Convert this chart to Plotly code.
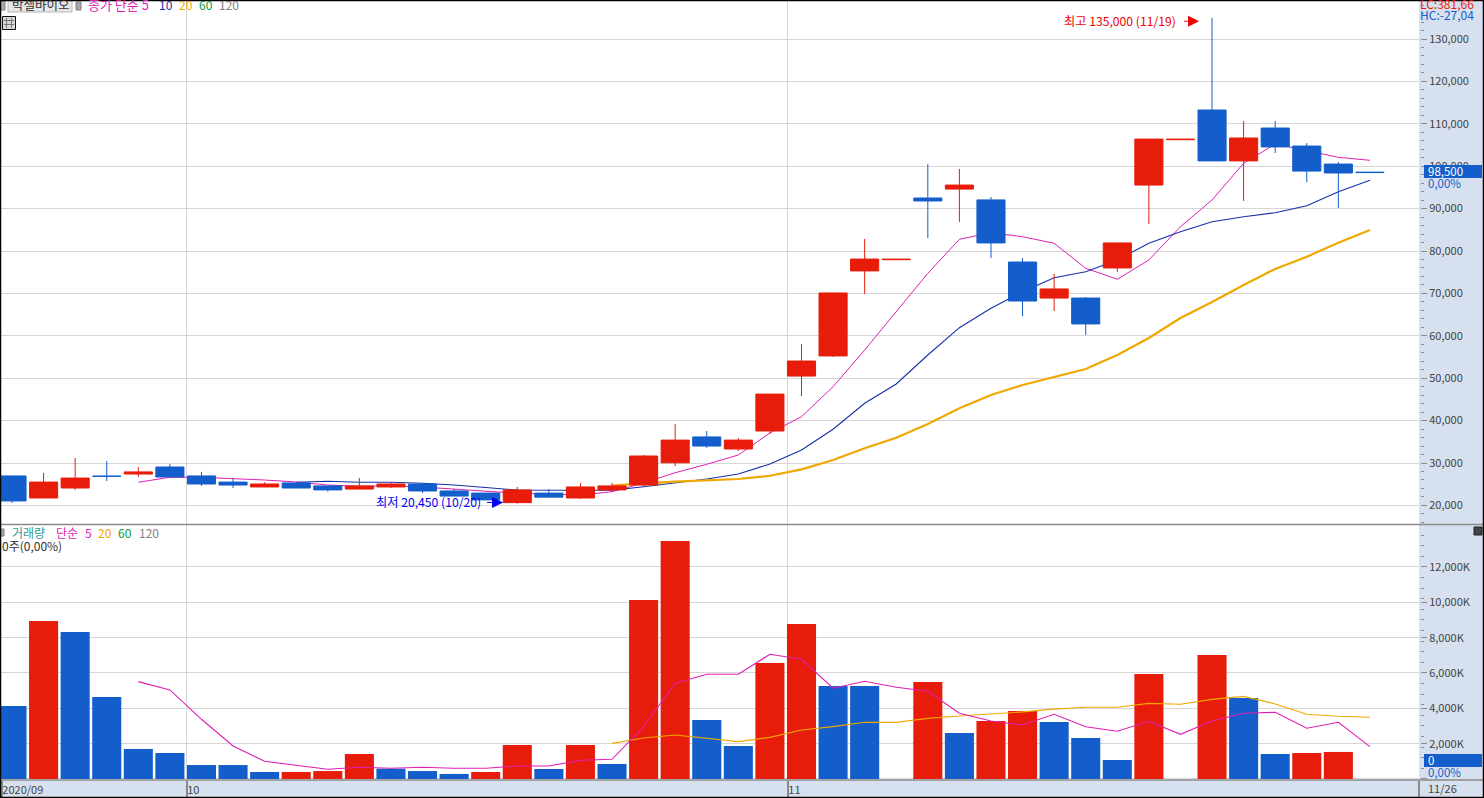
import plotly.graph_objects as go

# ---- data -------------------------------------------------------------
opens = [26950, 21750, 24100, 26900, 27400, 29050, 26950, 25500, 24350, 25300, 24600, 23850, 24350, 25050, 23400, 22900,
         20650, 22900, 21750, 23650, 24800, 30050, 36150, 33300, 37550, 50500, 55250, 75300, 77950, 92500, 94600, 92050,
         77400, 68900, 68900, 76000, 95550, 106250, 113250, 101250, 109000, 104750, 100500, 98600]
highs = [26950, 27650, 31200, 30450, 29050, 29750, 27900, 26450, 25500, 25300, 24600, 26450, 25500, 25300, 23850, 22900,
         24350, 23850, 25300, 25300, 31900, 39200, 37550, 35900, 46250, 58050, 70100, 82850, 78050, 100500, 99350, 92750,
         78350, 74600, 69150, 81900, 106400, 106350, 135000, 110650, 110650, 105450, 101000, 98600]
lows = [20550, 21750, 23650, 25750, 26700, 26700, 24600, 24100, 24350, 24100, 23250, 23850, 24100, 22900, 22200, 21300,
        20450, 21950, 21500, 23150, 24350, 29300, 33550, 32850, 36850, 45800, 55000, 69850, 77950, 83050, 86850, 78350,
        64650, 65850, 60200, 75050, 86350, 106250, 101250, 91800, 103100, 96250, 90150, 98500]
closes = [21050, 25500, 26450, 26850, 27900, 26700, 25050, 24800, 25050, 24100, 23650, 24600, 25050, 23400, 22200, 21300,
          23650, 21950, 24350, 24600, 31650, 35400, 34000, 35400, 46250, 54050, 70100, 78100, 78050, 91800, 95550, 81900,
          68200, 71050, 62800, 81900, 106400, 106350, 101250, 106650, 104550, 98850, 98400, 98500]

ma5 = [None, None, None, None, 25450, 26630, 26630, 26390, 25990, 25520, 24810, 24500, 24580, 24340, 23870, 23230,
       22850, 22690, 22450, 23230, 25280, 27710, 29690, 31890, 37080, 40920, 48000, 56650, 65680, 74740, 82760, 84320,
       83370, 81820, 75920, 73330, 77880, 85730, 92030, 100680, 105240, 103660, 102100, 101390]
ma10 = [None, None, None, None, None, None, None, None, None, 25450, 25680, 25450, 25450, 25210, 24810, 24220,
        23630, 23560, 23560, 23560, 24410, 25350, 26230, 27410, 29760, 33070, 37950, 44080, 48630, 55470, 61910, 66490,
        70400, 73700, 75120, 77880, 81820, 84550, 86910, 88090, 89030, 90680, 93990, 96680]
ma20 = [None] * 19 + [24650, 25210, 25590, 25990, 26230, 27000, 28510, 30710, 33470, 35970, 39200, 42900, 46040,
                      48400, 50280, 52170, 55470, 59480, 64200, 67970, 71980, 75760, 78660, 81960, 84950]

volumes = [4130, 8945, 8320, 4640, 1700, 1470, 790, 790, 395, 395, 450, 1415, 585, 450, 285, 395,
           1925, 565, 1925, 850, 10130, 13470, 3340, 1865, 6565, 8775, 5265, 5265, 0, 5490, 2605, 3280,
           3850, 3225, 2320, 1075, 5945, 0, 7020, 4585, 1415, 1470, 1530, 0]
volume_up = [0, 1, 0, 0, 0, 0, 0, 0, 0, 1, 1, 1, 0, 0, 0, 1,
             1, 0, 1, 0, 1, 1, 0, 0, 1, 1, 0, 0, 0, 1, 0, 1,
             1, 0, 0, 0, 1, 0, 1, 0, 0, 1, 1, 0]
vol_ma5 = [None, None, None, None, 5510, 5040, 3380, 1870, 1000, 790, 550, 665, 605, 665, 605, 605,
           735, 735, 1060, 1115, 2960, 5420, 5930, 5930, 7060, 6775, 5135, 5530, 5190, 4965, 3720, 3285,
           3055, 3665, 2960, 2700, 3265, 2530, 3285, 3720, 3775, 2870, 3210, 1830]
vol_ma20 = [None] * 19 + [2020, 2320, 2490, 2305, 2110, 2360, 2775, 2960, 3210, 3210, 3435, 3565, 3665,
                          3795, 3960, 4060, 4060, 4285, 4230, 4510, 4680, 4245, 3665, 3550, 3495]

days = list(range(len(closes)))
price_ticks = [20000 + 10000 * i for i in range(12)]
price_labels = [f"{v:,}" for v in price_ticks]
vol_ticks = [0, 2000, 4000, 6000, 8000, 10000, 12000]
vol_labels = ["", "2,000K", "4,000K", "6,000K", "8,000K", "10,000K", "12,000K"]
month_ticks = [-0.33, 5.526, 24.56, 44.54]
month_labels = ["2020/09", "10", "11", ""]

# ---- styling ----------------------------------------------------------
RED, BLUE = "#e81c0a", "#135ecb"
MAGENTA, NAVY, ORANGE, GREEN, GREY = "#df1fb4", "#1530a8", "#f0a800", "#0e9a3c", "#808080"
TEAL = "#2f9a9a"
STRIP, GRID, AXIS, TEXT = "#d6e0ee", "#d6d6d6", "#8a8a8a", "#444444"
FONT = "Noto Sans CJK KR"
W, H = 1484, 798
L, R, T, B = 1, 1419, 1, 780


def px(x):
    return (x - L) / (R - L)


def py(y):
    return (B - y) / (B - T)


fig = go.Figure()
for ys, col, wd in ((ma5, MAGENTA, 1), (ma10, NAVY, 1.1), (ma20, ORANGE, 2.2)):
    fig.add_trace(go.Scatter(x=days, y=ys, mode="lines", line=dict(color=col, width=wd),
                             xaxis="x", yaxis="y", zorder=0, showlegend=False, hoverinfo="skip"))
fig.add_trace(go.Candlestick(
    x=days, open=opens, high=highs, low=lows, close=closes, xaxis="x", yaxis="y", zorder=1,
    whiskerwidth=0, showlegend=False,
    increasing=dict(line=dict(color=RED, width=1), fillcolor=RED),
    decreasing=dict(line=dict(color=BLUE, width=1), fillcolor=BLUE)))
fig.add_trace(go.Bar(x=days, y=volumes, width=0.92, marker=dict(color=[RED if u else BLUE for u in volume_up], line=dict(width=0)),
                     xaxis="x2", yaxis="y2", showlegend=False))
for ys, col, wd in ((vol_ma20, ORANGE, 1.2), (vol_ma5, MAGENTA, 1.1)):
    fig.add_trace(go.Scatter(x=days, y=ys, mode="lines", line=dict(color=col, width=wd),
                             xaxis="x2", yaxis="y2", showlegend=False, hoverinfo="skip"))

shapes = []


def rect(x0, y0, x1, y1, fill=None, line=None, lw=1):
    shapes.append(dict(type="rect", xref="paper", yref="paper", x0=px(x0), x1=px(x1), y0=py(y0), y1=py(y1),
                       fillcolor=fill or "rgba(0,0,0,0)", line=dict(color=line or "rgba(0,0,0,0)", width=lw if line else 0)))


def hline(x0, x1, y, col, lw=1):
    shapes.append(dict(type="line", xref="paper", yref="paper", x0=px(x0), x1=px(x1), y0=py(y), y1=py(y), line=dict(color=col, width=lw)))


def vline(x, y0, y1, col, lw=1):
    shapes.append(dict(type="line", xref="paper", yref="paper", x0=px(x), x1=px(x), y0=py(y0), y1=py(y1), line=dict(color=col, width=lw)))


hline(0, W, 524.5, AXIS, 1.5)
hline(0, W, 780, AXIS, 1.5)
rect(8, -1, 72, 12, "#e6e6e6", "#b8b8b8")
rect(0, 1, 5, 10, "#a8a8a8", "#808080")
rect(76, 2, 81, 10, "#a8a8a8", "#808080")
rect(0, 529, 4, 536, "#a8a8a8", "#808080")
rect(2.5, 16.5, 15.5, 29.5, "#d8d8d8", "#111111")
for xx in (6.5, 11.5):
    vline(xx, 18, 28, "#777777")
for yy in (20.5, 24.5):
    hline(4, 14, yy, "#777777")
rect(1474, 527, 1482, 535, "#444444", "#222222")
rect(1424, 165, 1482, 178, BLUE)
rect(1424, 754, 1482, 767, BLUE)
rect(0.5, 0.5, W - 0.5, H - 0.5, None, "#000000", 1.5)

annotations = []


def text(x, y, s, col=TEXT, size=12, anchor="left"):
    annotations.append(dict(xref="paper", yref="paper", x=px(x), y=py(y), text=s, showarrow=False,
                            xanchor=anchor, yanchor="middle", font=dict(family=FONT, size=size, color=col)))


text(10, 5, "박셀바이오", "#333333", 12.5)
text(86, 5, "종가 단순 5", MAGENTA, 13)
text(157, 5, "10", NAVY, 12)
text(177, 5, "20", ORANGE, 12)
text(197, 5, "60", GREEN, 12)
text(217, 5, "120", GREY, 12)
text(1418, 3, "LC:381,66", RED, 12)
text(1418, 15, "HC:-27,04", BLUE, 12)
text(1426, 171, "98,500", "#ffffff", 11.5)
text(1426, 183, "0,00%", BLUE, 11.5)
text(1426, 760, "0", "#ffffff", 11.5)
text(1426, 772, "0,00%", BLUE, 11.5)
text(1426, 788, "11/26", TEXT, 11)
text(10, 532, "거래량", TEAL, 12)
text(54, 532, "단순", MAGENTA, 12)
text(83, 532, "5", MAGENTA, 12)
text(96, 532, "20", ORANGE, 12)
text(116, 532, "60", GREEN, 12)
text(137, 532, "120", GREY, 12)
text(0, 545, "0주(0,00%)", "#333333", 12)

annotations.append(dict(xref="x", yref="y", x=37.59, y=134200, text="최고 135,000 (11/19)", showarrow=True, ax=-21, ay=0,
                        xanchor="right", yanchor="middle", arrowhead=2, arrowsize=2.2, arrowwidth=1, startstandoff=6, arrowcolor="#f00000",
                        font=dict(family=FONT, size=12.2, color="#f00000")))
annotations.append(dict(xref="x", yref="y", x=15.55, y=20700, text="최저 20,450 (10/20)", showarrow=True, ax=-20, ay=0,
                        xanchor="right", yanchor="middle", arrowhead=2, arrowsize=2.2, arrowwidth=1, startstandoff=4, arrowcolor="#0000f0",
                        font=dict(family=FONT, size=12.2, color="#0000f0")))

xrange = [(L - 12) / 31.58, (R - 12) / 31.58]
yfont = dict(family=FONT, size=11, color=TEXT)
common_y = dict(side="right", ticks="outside", ticklen=6, tickcolor=AXIS, tickwidth=1, showline=True, linecolor=AXIS, linewidth=2,
                showgrid=True, gridcolor=GRID, gridwidth=1, zeroline=False, tickfont=yfont, fixedrange=True, tickmode="array")
fig.update_layout(
    width=W, height=H, autosize=False,
    margin=dict(l=L, r=W - R, t=T, b=H - B, pad=0),
    paper_bgcolor=STRIP, plot_bgcolor="#ffffff",
    boxgap=0.11, boxgroupgap=0, bargap=0.08, showlegend=False,
    xaxis=dict(domain=[0, 1], range=xrange, anchor="y", showticklabels=False, ticks="", rangeslider=dict(visible=False),
               tickmode="array", tickvals=month_ticks[:-1], showgrid=True, gridcolor=GRID, gridwidth=1, zeroline=False, fixedrange=True),
    xaxis2=dict(domain=[0, 1], range=xrange, anchor="y2", ticks="outside", ticklen=17, tickcolor=AXIS, tickwidth=1.5,
                tickmode="array", tickvals=month_ticks, ticktext=month_labels, ticklabelposition="outside right", tickangle=0,
                tickfont=dict(family=FONT, size=11, color=TEXT), showgrid=True, gridcolor=GRID, gridwidth=1, zeroline=False, fixedrange=True),
    yaxis=dict(domain=[py(524), 1], range=[20000 + (505.4 - 524) * 235.85, 20000 + (505.4 - 1) * 235.85], anchor="x",
               tickvals=price_ticks, ticktext=price_labels, minor=dict(dtick=2000, ticks="outside", ticklen=3, tickcolor=AXIS, showgrid=False),
               **common_y),
    yaxis2=dict(domain=[0, py(525)], range=[-57, (779 - 525) * 56.6], anchor="x2",
                tickvals=vol_ticks, ticktext=vol_labels, minor=dict(dtick=600, ticks="outside", ticklen=3, tickcolor=AXIS, showgrid=False),
                **common_y),
    shapes=shapes, annotations=annotations,
)
fig.write_html("out.html", config=dict(displayModeBar=False),
               post_script="document.body.style.margin='0';document.body.style.overflow='hidden';")
